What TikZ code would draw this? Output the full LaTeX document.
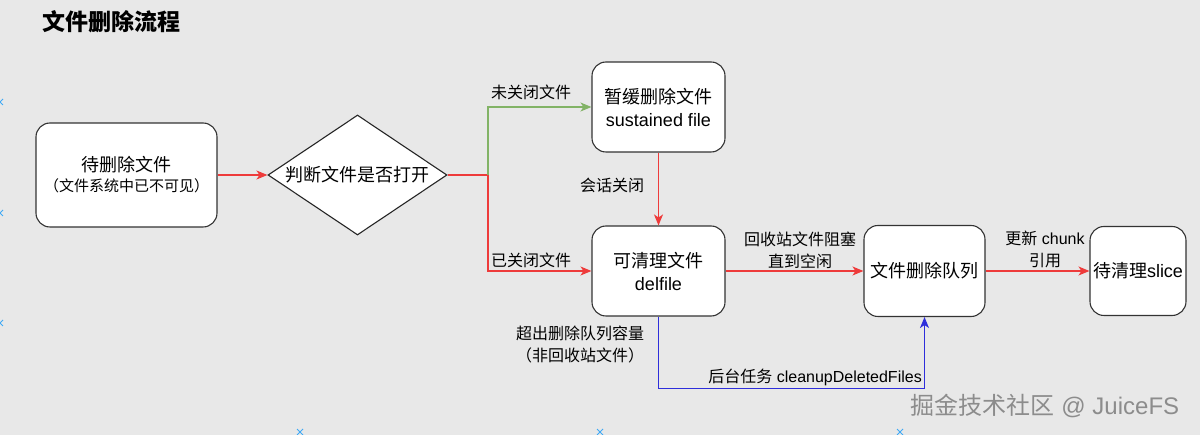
\documentclass[tikz,border=0pt]{standalone}
\usepackage{fontspec}
\setmainfont{Liberation Sans}
\newfontfamily\cjk{Noto Sans CJK SC}
\usetikzlibrary{arrows.meta,shapes.geometric}
\definecolor{bggray}{HTML}{E8E8E8}
\definecolor{edgered}{HTML}{EE3B3B}
\definecolor{edgegreen}{HTML}{82B366}
\definecolor{edgeblue}{HTML}{2E2EDB}
\definecolor{markblue}{HTML}{3FA9F5}
\begin{document}
\begin{tikzpicture}[x=1pt,y=-1pt,
  box/.style={draw=black!80, fill=white, rounded corners=14pt, line width=1.1pt, align=center, font=\fontsize{18}{23}\selectfont, inner sep=0pt},
  dia/.style={draw=black!85, fill=white, diamond, aspect=1.49, line width=1.1pt, inner sep=0pt, minimum width=179pt, minimum height=120pt, font=\cjk\fontsize{18}{22}\selectfont},
  lbl/.style={font=\fontsize{16}{22}\selectfont, align=center, inner sep=0pt},
  conn/.style={line width=1.1pt, -{Stealth[length=11pt,width=9pt,inset=3pt]}},
  rarrow/.style={conn, draw=edgered},
  garrow/.style={conn, draw=edgegreen},
  barrow/.style={conn, draw=edgeblue},
  rline/.style={line width=1.1pt, draw=edgered},
  xmark/.style={draw=markblue, line width=0.8pt}
]
\fill[bggray] (0,0) rectangle (1200,435);
\useasboundingbox (0,0) rectangle (1200,435);

% edge markers
\foreach \yy in {102,213,323}{\draw[xmark] (-3,\yy-3) -- (3,\yy+3) (-3,\yy+3) -- (3,\yy-3);}
\foreach \xx in {300,600,900}{\draw[xmark] (\xx-3,429) -- (\xx+3,435) (\xx-3,435) -- (\xx+3,429);}

% title
\node[font=\cjk\bfseries\fontsize{23}{27}\selectfont, anchor=west, inner sep=0pt] (T) at (42,22) {文件删除流程};

% nodes
\node[box, minimum width=181pt, minimum height=104pt] (A) at (126.5,175) {{\cjk 待删除文件}\\[-3pt]{\cjk\fontsize{15}{19}\selectfont （文件系统中已不可见）}};
\node[dia] (D) at (357.5,175) {判断文件是否打开};
\node[box, minimum width=133pt, minimum height=90pt] (S) at (658.5,107) {{\cjk 暂缓删除文件}\\sustained file};
\node[box, minimum width=133pt, minimum height=90pt] (F) at (658.5,271) {{\cjk 可清理文件}\\delfile};
\node[box, minimum width=121pt, minimum height=91pt] (Q) at (924.5,271) {\cjk 文件删除队列};
\node[box, minimum width=96pt, minimum height=89pt] (L) at (1138,271) {{\cjk 待清理}slice};

% connectors
\coordinate (J) at (488,175);
\draw[rarrow] (A) -- (D);
\draw[rline] (D.east) -- (J);
\draw[garrow] (J) |- (S.west);
\draw[rarrow] (J) |- (F.west);
\draw[rarrow] (S) -- (F);
\draw[rarrow] (F) -- (Q);
\draw[rarrow] (Q) -- (L);
\draw[barrow] (F.south) -- ++(0,72) -| (Q.south);

% labels
\node[lbl] (l1) at (531,92) {\cjk 未关闭文件};
\node[lbl] (l2) at (531,260) {\cjk 已关闭文件};
\node[lbl] (l3) at (612,185) {\cjk 会话关闭};
\node[lbl] (l4) at (800,250) {\cjk 回收站文件阻塞\\\cjk 直到空闲};
\node[lbl] (l5) at (1045,249) {{\cjk 更新} chunk\\\cjk 引用};
\node[lbl] (l6) at (580,344) {\cjk 超出删除队列容量\\\cjk （非回收站文件）};
\node[lbl, anchor=east] (l7) at (922,377) {{\cjk 后台任务} cleanupDeletedFiles};

% watermark
\node[font=\fontsize{24}{28}\selectfont, text=black!45, inner sep=0pt] (W) at (1045,406) {{\cjk 掘金技术社区} @ JuiceFS};
\end{tikzpicture}
\end{document}
